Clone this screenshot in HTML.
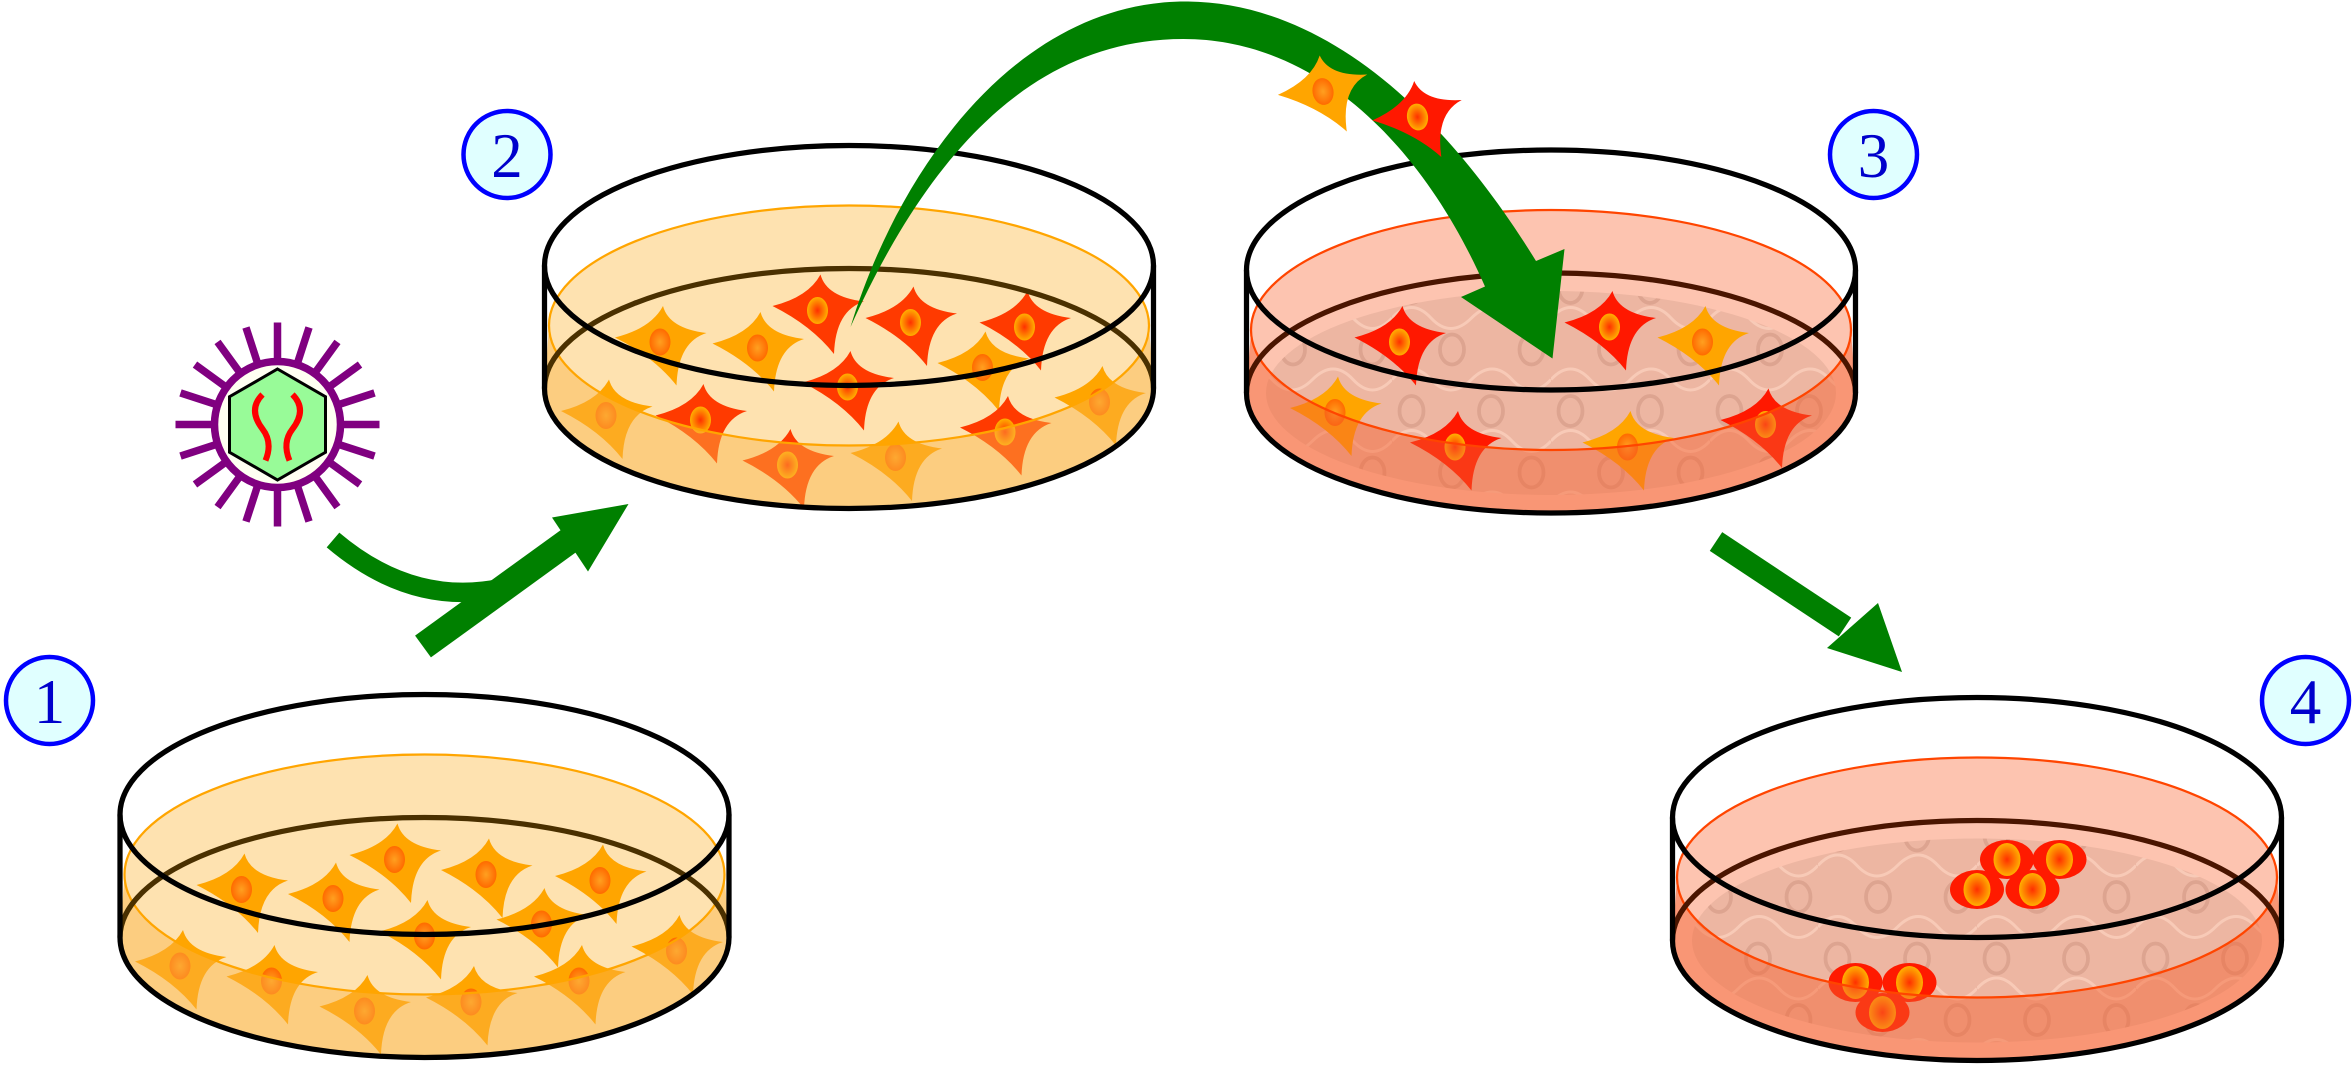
<!DOCTYPE html>
<html><head><meta charset="utf-8"><style>html,body{margin:0;padding:0;background:#fff}svg{display:block}</style></head>
<body>
<svg width="2352" height="1065" viewBox="0 0 1568 710" xmlns="http://www.w3.org/2000/svg">
<defs>
<radialGradient id="nucO"><stop offset="0" stop-color="#ffa020"/><stop offset="1" stop-color="#ff6a00"/></radialGradient>
<radialGradient id="nucR"><stop offset="0" stop-color="#ff3000"/><stop offset="1" stop-color="#ffb000"/></radialGradient>
<g id="cellO"><path d="M2,-24 Q6,-9 31,-6 Q12,0 11,29 Q-4,10 -30,-3 Q-6,-9 2,-24 Z" fill="#ffa500"/><ellipse rx="7" ry="9" fill="url(#nucO)"/></g>
<g id="cellR"><path d="M2,-24 Q6,-9 31,-6 Q12,0 11,29 Q-4,10 -30,-3 Q-6,-9 2,-24 Z" fill="#ff3a00"/><ellipse rx="7" ry="9" fill="url(#nucR)"/></g>
<g id="cellR2"><path d="M2,-24 Q6,-9 31,-6 Q12,0 11,29 Q-4,10 -30,-3 Q-6,-9 2,-24 Z" fill="#ff1800"/><ellipse rx="7" ry="9" fill="url(#nucR)"/></g>
<g id="oval"><ellipse rx="18" ry="13" fill="#ff1a00"/><ellipse rx="9" ry="11" fill="url(#nucR)"/></g>
<clipPath id="liq"><path d="M-200,40 A200,80 0 0 1 200,40 L203,82 A203,80 0 0 1 -203,82 Z"/></clipPath>
<pattern id="pat" width="106" height="82" patternUnits="userSpaceOnUse">
<rect width="106" height="82" fill="#ebb4a0"/>
<path d="M0,32 Q13,18 26,32 T53,32 T80,32 T106,32 M0,73 Q13,59 26,73 T53,73 T80,73 T106,73" stroke="#f7cbb8" stroke-width="2" fill="none"/>
<g fill="none" stroke="#d9a08c" stroke-width="2.5">
<ellipse cx="13" cy="12" rx="8" ry="10"/><ellipse cx="66" cy="12" rx="8" ry="10"/>
<ellipse cx="40" cy="53" rx="8" ry="10"/><ellipse cx="93" cy="53" rx="8" ry="10"/>
</g>
</pattern>
</defs>

<!-- Dish 1 -->
<g transform="translate(283,543)">
<path d="M-200,40 A200,80 0 0 1 200,40 L203,82 A203,80 0 0 1 -203,82 Z" fill="#fee2b0"/>
<g clip-path="url(#liq)"><g transform="translate(-283,-543)">
<use href="#cellO" x="161" y="593"/><use href="#cellO" x="222" y="599"/><use href="#cellO" x="263" y="573"/><use href="#cellO" x="324" y="583"/><use href="#cellO" x="400" y="587"/><use href="#cellO" x="283" y="624"/><use href="#cellO" x="361" y="616"/><use href="#cellO" x="451" y="634"/><use href="#cellO" x="120" y="644"/><use href="#cellO" x="181" y="654"/><use href="#cellO" x="243" y="674"/><use href="#cellO" x="314" y="668"/><use href="#cellO" x="386" y="654"/>
</g></g>
<path d="M-200,40 A200,80 0 0 0 200,40 L203,82 A203,80 0 0 1 -203,82 Z" fill="#fbb448" opacity="0.45"/>
<ellipse cx="0" cy="40" rx="200" ry="80" fill="none" stroke="#ffa500" stroke-width="1.5"/>
<path d="M-203,82 A203,80 0 0 1 203,82" fill="none" stroke="#4a3000" stroke-width="3.5"/>
<path d="M-203,82 A203,80 0 0 0 203,82" fill="none" stroke="#000" stroke-width="3.5"/>
<line x1="-203" y1="0" x2="-203" y2="82" stroke="#000" stroke-width="3.5"/><line x1="203" y1="0" x2="203" y2="82" stroke="#000" stroke-width="3.5"/>
<ellipse cx="0" cy="0" rx="203" ry="80" fill="none" stroke="#000" stroke-width="3.5"/>
</g>

<!-- Dish 2 -->
<g transform="translate(566,177)">
<path d="M-200,40 A200,80 0 0 1 200,40 L203,82 A203,80 0 0 1 -203,82 Z" fill="#fee2b0"/>
<g clip-path="url(#liq)"><g transform="translate(-566,-177)">
<use href="#cellO" x="440" y="228"/><use href="#cellO" x="505" y="232"/><use href="#cellO" x="655" y="245"/><use href="#cellO" x="733" y="268"/><use href="#cellO" x="404" y="277"/><use href="#cellO" x="597" y="305"/>
<use href="#cellR" x="545" y="207"/><use href="#cellR" x="607" y="215"/><use href="#cellR" x="683" y="218"/><use href="#cellR" x="565" y="258"/><use href="#cellR" x="467" y="280"/><use href="#cellR" x="670" y="288"/><use href="#cellR" x="525" y="310"/>
</g></g>
<path d="M-200,40 A200,80 0 0 0 200,40 L203,82 A203,80 0 0 1 -203,82 Z" fill="#fbb448" opacity="0.45"/>
<ellipse cx="0" cy="40" rx="200" ry="80" fill="none" stroke="#ffa500" stroke-width="1.5"/>
<path d="M-203,82 A203,80 0 0 1 203,82" fill="none" stroke="#4a3000" stroke-width="3.5"/>
<path d="M-203,82 A203,80 0 0 0 203,82" fill="none" stroke="#000" stroke-width="3.5"/>
<line x1="-203" y1="0" x2="-203" y2="82" stroke="#000" stroke-width="3.5"/><line x1="203" y1="0" x2="203" y2="82" stroke="#000" stroke-width="3.5"/>
<ellipse cx="0" cy="0" rx="203" ry="80" fill="none" stroke="#000" stroke-width="3.5"/>
</g>

<!-- Dish 3 -->
<g transform="translate(1034,180)">
<path d="M-200,40 A200,80 0 0 1 200,40 L203,82 A203,80 0 0 1 -203,82 Z" fill="#fdc4b0"/>
<g clip-path="url(#liq)">
<ellipse cx="0" cy="82" rx="190" ry="68" fill="url(#pat)" opacity="0.9"/>
<g transform="translate(-1034,-180)">
<use href="#cellR2" x="933" y="228"/><use href="#cellR2" x="1073" y="218"/><use href="#cellR2" x="1177" y="283"/><use href="#cellR2" x="970" y="298"/>
<use href="#cellO" x="1135" y="228"/><use href="#cellO" x="890" y="275"/><use href="#cellO" x="1085" y="298"/>
</g></g>
<path d="M-200,40 A200,80 0 0 0 200,40 L203,82 A203,80 0 0 1 -203,82 Z" fill="#f5602f" opacity="0.45"/>
<ellipse cx="0" cy="40" rx="200" ry="80" fill="none" stroke="#ff4500" stroke-width="1.5"/>
<path d="M-203,82 A203,80 0 0 1 203,82" fill="none" stroke="#4a1500" stroke-width="3.5"/>
<path d="M-203,82 A203,80 0 0 0 203,82" fill="none" stroke="#000" stroke-width="3.5"/>
<line x1="-203" y1="0" x2="-203" y2="82" stroke="#000" stroke-width="3.5"/><line x1="203" y1="0" x2="203" y2="82" stroke="#000" stroke-width="3.5"/>
<ellipse cx="0" cy="0" rx="203" ry="80" fill="none" stroke="#000" stroke-width="3.5"/>
</g>

<!-- Dish 4 -->
<g transform="translate(1318,545)">
<path d="M-200,40 A200,80 0 0 1 200,40 L203,82 A203,80 0 0 1 -203,82 Z" fill="#fdc4b0"/>
<g clip-path="url(#liq)">
<ellipse cx="0" cy="82" rx="190" ry="68" fill="url(#pat)" opacity="0.9"/>
<g transform="translate(-1318,-545)">
<use href="#oval" x="1338" y="573"/><use href="#oval" x="1373" y="573"/><use href="#oval" x="1318" y="593"/><use href="#oval" x="1355" y="593"/>
<use href="#oval" x="1237" y="655"/><use href="#oval" x="1273" y="655"/><use href="#oval" x="1255" y="675"/>
</g></g>
<path d="M-200,40 A200,80 0 0 0 200,40 L203,82 A203,80 0 0 1 -203,82 Z" fill="#f5602f" opacity="0.45"/>
<ellipse cx="0" cy="40" rx="200" ry="80" fill="none" stroke="#ff4500" stroke-width="1.5"/>
<path d="M-203,82 A203,80 0 0 1 203,82" fill="none" stroke="#4a1500" stroke-width="3.5"/>
<path d="M-203,82 A203,80 0 0 0 203,82" fill="none" stroke="#000" stroke-width="3.5"/>
<line x1="-203" y1="0" x2="-203" y2="82" stroke="#000" stroke-width="3.5"/><line x1="203" y1="0" x2="203" y2="82" stroke="#000" stroke-width="3.5"/>
<ellipse cx="0" cy="0" rx="203" ry="80" fill="none" stroke="#000" stroke-width="3.5"/>
</g>

<!-- Virus -->
<g transform="translate(185,283)" stroke="#800080" stroke-width="5">
<g id="sp"><line x1="0" y1="-44" x2="0" y2="-68"/></g>
<use href="#sp" transform="rotate(18)"/><use href="#sp" transform="rotate(36)"/><use href="#sp" transform="rotate(54)"/><use href="#sp" transform="rotate(72)"/><use href="#sp" transform="rotate(90)"/><use href="#sp" transform="rotate(108)"/><use href="#sp" transform="rotate(126)"/><use href="#sp" transform="rotate(144)"/><use href="#sp" transform="rotate(162)"/><use href="#sp" transform="rotate(180)"/><use href="#sp" transform="rotate(198)"/><use href="#sp" transform="rotate(216)"/><use href="#sp" transform="rotate(234)"/><use href="#sp" transform="rotate(252)"/><use href="#sp" transform="rotate(270)"/><use href="#sp" transform="rotate(288)"/><use href="#sp" transform="rotate(306)"/><use href="#sp" transform="rotate(324)"/><use href="#sp" transform="rotate(342)"/>
<circle r="42" fill="#fffff2"/>
<polygon points="0,-37 32,-18.5 32,18.5 0,37 -32,18.5 -32,-18.5" fill="#98fb98" stroke="#000" stroke-width="2"/>
<path d="M-10,-20 Q-20,-10 -10,3 Q-3,12 -8,24" fill="none" stroke="#ff0000" stroke-width="4"/>
<path d="M10,-20 Q20,-10 10,3 Q3,12 8,24" fill="none" stroke="#ff0000" stroke-width="4"/>
</g>

<!-- Arrow 1 -->
<path d="M222,360 Q275,405 335,392" fill="none" stroke="#008000" stroke-width="13"/>
<line x1="282" y1="431" x2="380" y2="360" stroke="#008000" stroke-width="18"/>
<polygon points="419,336 368,345 392,381" fill="#008000"/>

<!-- Big arrow -->
<path d="M567,218 C600,110 680,0 792,1 C880,2 960,70 1024,174 L1043,166 L1035,239 L974,198 L990,191 C950,100 880,26 789,26 C690,26 620,100 567,218 Z" fill="#008000"/>
<use href="#cellO" x="882" y="61" transform="rotate(-10 882 61)"/>
<use href="#cellR2" x="945" y="78" transform="rotate(-10 945 78)"/>

<!-- Arrow 3 -->
<line x1="1144" y1="361" x2="1230" y2="418" stroke="#008000" stroke-width="15"/>
<polygon points="1268,448 1218,432 1252,402" fill="#008000"/>

<!-- Numbers -->
<g font-family="Liberation Serif, serif" font-size="42" fill="#0000cc" text-anchor="middle" stroke-width="3">
<circle cx="33" cy="467" r="29" fill="#e0ffff" stroke="#0000ff"/><text x="33" y="482">1</text>
<circle cx="338" cy="103" r="29" fill="#e0ffff" stroke="#0000ff"/><text x="338" y="118">2</text>
<circle cx="1249" cy="103" r="29" fill="#e0ffff" stroke="#0000ff"/><text x="1249" y="118">3</text>
<circle cx="1537" cy="467" r="29" fill="#e0ffff" stroke="#0000ff"/><text x="1537" y="482">4</text>
</g>
</svg>
</body></html>
